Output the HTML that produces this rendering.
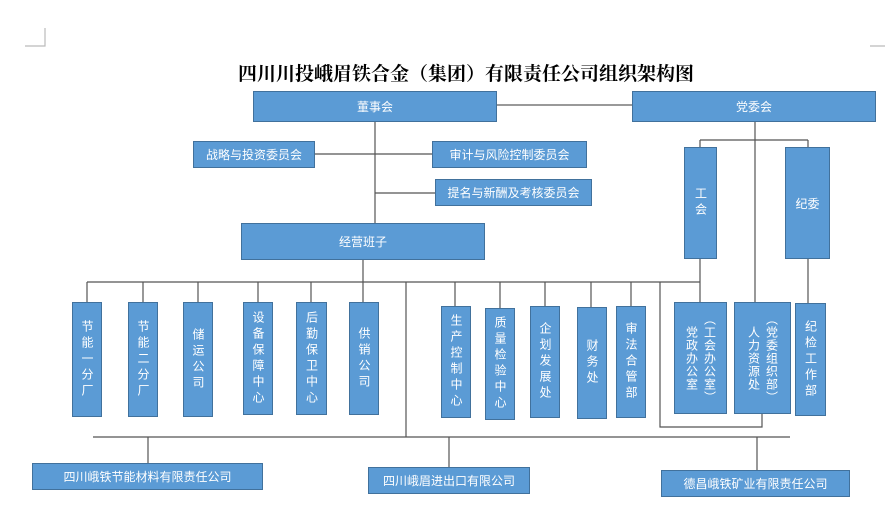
<!DOCTYPE html>
<html><head><meta charset="utf-8"><style>
body{margin:0;width:890px;height:526px;background:#fff;position:relative;overflow:hidden;font-family:"Liberation Sans","Noto Sans CJK SC",sans-serif}
.b{position:absolute;background:#5b9bd5;border:1.5px solid #41719c;box-sizing:border-box;color:#fff;font-size:12px;display:flex;align-items:center;justify-content:center;text-align:center}
.v{writing-mode:vertical-rl;letter-spacing:4px;line-height:14px}
svg{position:absolute;left:0;top:0}
.t{position:absolute;left:0;width:932px;top:59px;text-align:center;font-size:19px;font-weight:bold;font-family:"Noto Serif CJK SC",serif;color:#000}
</style></head><body>
<svg width="890" height="526" stroke="#555" stroke-width="1.2" fill="none">
<path d="M25 46H45V28M870 46H885" stroke="#bbb"/>
<path d="M497 105H632" stroke="#999" stroke-width="2"/>
<path d="M375 121V223M314 154H432M375 193H435"/>
<path d="M363 260V282M87 282H700M87 282V302M143 282V302M198 282V302M258 282V302M311 282V302M363 282V302M455 282V306M500 282V308M545 282V306M591 282V307M631 282V306"/>
<path d="M755 121V302M700 140H808M700 140V147M808 140V147M700 259V302M808 259V303"/>
<path d="M406 282V437M93 437H790M148 437V463M449 437V467M757 437V470M660 282V427H762V414"/>
</svg>
<div class="t">四川川投峨眉铁合金（集团）有限责任公司组织架构图</div>
<div class="b" style="left:253px;top:91px;width:244px;height:31px">董事会</div>
<div class="b" style="left:632px;top:91px;width:244px;height:31px">党委会</div>
<div class="b" style="left:193px;top:141px;width:122px;height:27px">战略与投资委员会</div>
<div class="b" style="left:432px;top:141px;width:155px;height:27px">审计与风险控制委员会</div>
<div class="b" style="left:435px;top:179px;width:157px;height:27px">提名与新酬及考核委员会</div>
<div class="b" style="left:241px;top:223px;width:244px;height:37px">经营班子</div>
<div class="b v" style="left:684px;top:147px;width:33px;height:112px">工会</div>
<div class="b" style="left:785px;top:147px;width:45px;height:112px">纪委</div>
<div class="b v" style="left:72px;top:302px;width:30px;height:115px">节能一分厂</div>
<div class="b v" style="left:128px;top:302px;width:30px;height:115px">节能二分厂</div>
<div class="b v" style="left:183px;top:302px;width:30px;height:115px">储运公司</div>
<div class="b v" style="left:243px;top:302px;width:30px;height:113px">设备保障中心</div>
<div class="b v" style="left:296px;top:302px;width:31px;height:113px">后勤保卫中心</div>
<div class="b v" style="left:349px;top:302px;width:30px;height:113px">供销公司</div>
<div class="b v" style="left:441px;top:306px;width:30px;height:112px">生产控制中心</div>
<div class="b v" style="left:485px;top:308px;width:30px;height:112px">质量检验中心</div>
<div class="b v" style="left:530px;top:306px;width:30px;height:112px">企划发展处</div>
<div class="b v" style="left:577px;top:307px;width:30px;height:112px">财务处</div>
<div class="b v" style="left:616px;top:306px;width:30px;height:112px">审法合管部</div>
<div class="b v" style="left:674px;top:302px;width:53px;height:112px;letter-spacing:1px;line-height:18px">（工会办公室）<br>党政办公室</div>
<div class="b v" style="left:734px;top:302px;width:57px;height:112px;letter-spacing:1px;line-height:18px">（党委组织部）<br>人力资源处</div>
<div class="b v" style="left:795px;top:303px;width:31px;height:113px">纪检工作部</div>
<div class="b" style="left:32px;top:463px;width:231px;height:27px">四川峨铁节能材料有限责任公司</div>
<div class="b" style="left:368px;top:467px;width:162px;height:27px">四川峨眉进出口有限公司</div>
<div class="b" style="left:661px;top:470px;width:189px;height:27px">德昌峨铁矿业有限责任公司</div>
</body></html>
